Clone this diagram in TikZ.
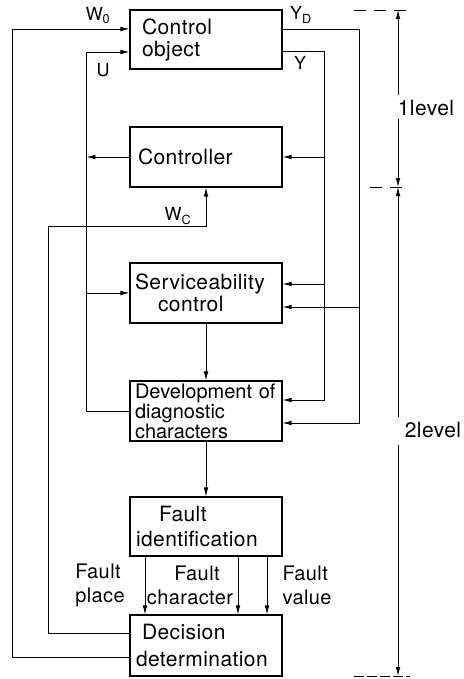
\documentclass[tikz,border=0pt]{standalone}
\usepackage{fontspec}
\setmainfont{TeX Gyre Heros}[LetterSpace=2.0]
\usetikzlibrary{arrows.meta}
\begin{document}
\begin{tikzpicture}[x=1pt,y=-1pt,
  blk/.style={draw, line width=1.1pt, minimum width=152pt, inner ysep=2pt,
              align=left, font=\fontsize{21pt}{22pt}\selectfont},
  wire/.style={line width=0.8pt},
  arr/.style={wire, -{Latex[length=9pt,width=4.6pt]}},
  sig/.style={font=\fontsize{18pt}{20pt}\selectfont, inner sep=0pt},
  flt/.style={font=\fontsize{20pt}{24pt}\selectfont, inner sep=0pt},
  lvl/.style={font=\fontsize{21pt}{22pt}\selectfont, inner sep=0pt},
  tick/.style={line width=0.8pt, dash pattern=on 12pt off 8pt}]
\useasboundingbox (0,0) rectangle (463,679);

% blocks
\node[blk, minimum height=59pt, inner xsep=12pt, text width=128pt] (co) at (206,39.5)
  {Control\\object};
\node[blk, minimum height=60pt, inner xsep=8pt, text width=136pt] (ctrl) at (206,157)
  {Controller};
\node[blk, minimum height=60pt, inner xsep=5pt, text width=142pt] (serv) at (206,293)
  {Serviceability\\\hspace*{23pt}control};
\node[blk, minimum height=60pt, inner xsep=5pt, text width=142pt,
      font=\fontsize{20pt}{18.5pt}\selectfont\addfontfeature{LetterSpace=0.0}] (dev) at (206,411)
  {Development~of\\diagnostic\\characters};
\node[blk, minimum height=59pt, inner xsep=6pt, text width=140pt,
      font=\fontsize{21pt}{25pt}\selectfont] (fid) at (206,526.5)
  {\hspace*{23pt}Fault\\identification};
\node[blk, minimum height=61pt, inner xsep=6pt, text width=140pt,
      font=\fontsize{21pt}{27pt}\selectfont] (dec) at (206,645.5)
  {\hspace*{6pt}Decision\\determination};

% inputs of the control object
\draw[arr] ([yshift=-11.5pt]dec.west) -- ++(-117,0) |- ([yshift=10.5pt]co.west);
\draw[arr] (dev.west) -- ++(-43,0) |- ([yshift=-12.5pt]co.west);
\draw[arr] (ctrl.west) -- ++(-43,0);
\draw[arr] ([xshift=-43pt]serv.west) -- (serv.west);

% set point of the controller
\draw[arr] ([yshift=12.5pt]dec.west) -- ++(-81,0) -- ++(0,-407) -| (ctrl.south);

% output Y
\draw[arr] ([yshift=-11.5pt]co.east) -- ++(42,0) |- ([yshift=11pt]dev.east);
\draw[arr] ([xshift=42pt]ctrl.east) -- (ctrl.east);
\draw[arr] ([xshift=42pt,yshift=9pt]serv.east) -- ([yshift=9pt]serv.east);

% diagnostic output Y_D
\draw[arr] ([yshift=10.5pt]co.east) -- ++(77,0) |- ([yshift=-12pt]dev.east);
\draw[arr] ([xshift=77pt,yshift=-14pt]serv.east) -- ([yshift=-14pt]serv.east);

% main diagnostic chain
\draw[arr] (serv.south) -- (dev.north);
\draw[arr] (dev.south) -- (fid.north);
\draw[arr] ([xshift=-61pt]fid.south) -- ([xshift=-61pt]dec.north);
\draw[arr] ([xshift=32pt]fid.south) -- ([xshift=32pt]dec.north);
\draw[arr] ([xshift=61pt]fid.south) -- ([xshift=61pt]dec.north);

% signal labels
\node[sig] (lw0) at (98,16) {W\textsubscript{0}};
\node[sig] (lu) at (103,70) {U};
\node[sig] (lyd) at (301,15) {Y\textsubscript{D}};
\node[sig] (ly) at (300,63) {Y};
\node[sig] (lwc) at (178,216) {W\textsubscript{C}};
\node[flt, align=left] (fpl) at (100,585) {Fault\\place};
\node[flt, align=center] (fch) at (190,585) {\hspace*{14pt}Fault\\character};
\node[flt, align=left] (fva) at (307,585) {Fault\\value};

% hierarchy levels
\coordinate (ltop) at (398,10);
\coordinate (lmid) at (398,187);
\coordinate (lbot) at (398,676);
\coordinate (v1a) at (398,95);
\coordinate (v1b) at (398,119);
\coordinate (v2a) at (398,417);
\coordinate (v2b) at (398,445);
\coordinate (t1) at (354,10);   \coordinate (t2) at (410,10);
\coordinate (m1) at (370,187);  \coordinate (m2) at (410,187);
\coordinate (b1) at (354,676);  \coordinate (b2) at (410,676);
\draw[tick] (t1) -- (t2);
\draw[tick] (m1) -- (m2);
\draw[tick, dash pattern=on 10pt off 3pt] (b1) -- (b2);
\draw[arr] (v1a) -- (ltop);
\draw[arr] (v1b) -- (lmid);
\draw[arr] (v2a) -- (lmid);
\draw[arr] (v2b) -- (lbot);
\node[lvl] (lv1) at (426,108) {1level};
\node[lvl] (lv2) at (433,430) {2level};
\end{tikzpicture}
\end{document}
